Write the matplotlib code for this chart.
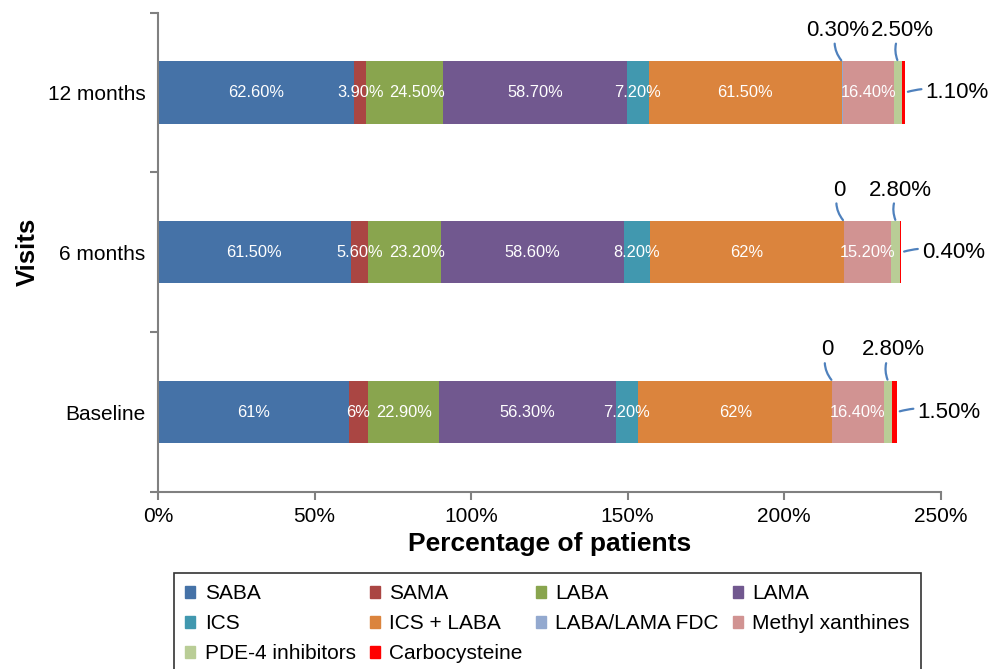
import matplotlib.pyplot as plt
from matplotlib.patches import Patch
import numpy as np

plt.rcParams['font.family'] = ['Liberation Sans', 'DejaVu Sans']

visits = ['Baseline', '6 months', '12 months']
drugs = ['SABA', 'SAMA', 'LABA', 'LAMA', 'ICS', 'ICS + LABA', 'LABA/LAMA FDC',
         'Methyl xanthines', 'PDE-4 inhibitors', 'Carbocysteine']
colors = ['#4572A7', '#AA4643', '#89A54E', '#71588F', '#4198AF', '#DB843D',
          '#93A9CF', '#D19392', '#B9CD96', '#FF0000']

# values per drug, for Baseline, 6 months, 12 months
saba = [61, 61.5, 62.6]
sama = [6, 5.6, 3.9]
laba = [22.9, 23.2, 24.5]
lama = [56.3, 58.6, 58.7]
ics = [7.2, 8.2, 7.2]
ics_laba = [62, 62, 61.5]
fdc = [0, 0, 0.3]
methyl = [16.4, 15.2, 16.4]
pde4 = [2.8, 2.8, 2.5]
carbo = [1.5, 0.4, 1.1]

data = np.array([saba, sama, laba, lama, ics, ics_laba, fdc, methyl, pde4, carbo])
inside = [0, 1, 2, 3, 4, 5, 7]      # labelled inside the bar
callouts = {6: (-5, 31), 8: (5, 31), 9: (52, 0)}   # offsets in px


def fmt(v):
    if v == 0:
        return '0'
    if float(v).is_integer():
        return '%d%%' % v
    return '%.2f%%' % v


fig = plt.figure(figsize=(9.88, 6.69), dpi=100)
ax = fig.add_axes([0.160, 0.2646, 0.792, 0.7165])

y = np.arange(len(visits))
h = 0.39
left = np.zeros(len(visits))
inner = [[] for _ in visits]
for i, name in enumerate(drugs):
    ax.barh(y, data[i], left=left, height=h, color=colors[i], label=name)
    for j in range(len(visits)):
        v = data[i][j]
        cx = left[j] + v / 2
        if i in inside:
            t = ax.text(cx, y[j], fmt(v), ha='center', va='center',
                        color='white', fontsize=11.8)
            inner[j].append(t)
        elif i in callouts:
            dx, dy = callouts[i]
            if i == 9:
                xy = (left[j] + v, y[j])
                ax.annotate(fmt(v), xy=xy, xytext=(dx, dy),
                            textcoords='offset pixels', ha='center',
                            va='center', fontsize=16,
                            arrowprops=dict(arrowstyle='-', color='#4F81BD',
                                            lw=1.6, shrinkA=1, shrinkB=2,
                                            connectionstyle='arc3,rad=0.15'))
            else:
                xy = (cx, y[j] + h / 2)
                ax.annotate(fmt(v), xy=xy, xytext=(dx, dy),
                            textcoords='offset pixels', ha='center',
                            va='center', fontsize=16,
                            arrowprops=dict(arrowstyle='-', color='#4F81BD',
                                            lw=1.6, shrinkA=0, shrinkB=1,
                                            connectionstyle='arc3,rad=0.3'))
    left += data[i]

ax.set_xlim(0, 250)
ax.set_ylim(-0.5, 2.5)
ax.set_xticks(np.arange(0, 251, 50))
ax.set_xticklabels(['%d%%' % t for t in range(0, 251, 50)], fontsize=15)
ax.set_yticks(y)
ax.set_yticklabels(visits, fontsize=15)
ax.set_yticks([-0.5, 0.5, 1.5, 2.5], minor=True)
ax.tick_params(axis='y', which='major', length=0, pad=9)
ax.tick_params(axis='y', which='minor', length=6, width=1.5, color='#808080')
ax.tick_params(axis='x', length=6, width=1.5, color='#808080', pad=5)

for s in ['top', 'right']:
    ax.spines[s].set_visible(False)
for s in ['left', 'bottom']:
    ax.spines[s].set_color('#808080')
    ax.spines[s].set_linewidth(1.5)

ax.set_xlabel('Percentage of patients', fontsize=19, fontweight='bold', labelpad=4)
ax.set_ylabel('Visits', fontsize=18.5, fontweight='bold', labelpad=6)

# push inside labels right when they would run into the previous one
renderer = fig.canvas.get_renderer()
inv = ax.transData.inverted()
for labels in inner:
    prev = None
    for t in labels:
        bb = t.get_window_extent(renderer)
        if prev is not None and bb.x0 < prev + 6:
            shift = prev + 6 - bb.x0
            px, py = ax.transData.transform(t.get_position())
            t.set_position(inv.transform((px + shift, py)))
            prev = bb.x1 + shift
        else:
            prev = bb.x1

# legend filled row by row
order = [0, 4, 8, 1, 5, 9, 2, 6, 3, 7]
handles = [Patch(color=colors[k], label=drugs[k]) for k in order]
leg = fig.legend(handles=handles, ncol=4, loc='upper left',
                 bbox_to_anchor=(174 / 988, 1 - 573 / 669),
                 borderaxespad=0, fontsize=15, frameon=True, fancybox=False,
                 handlelength=0.48, handleheight=0.48, handletextpad=0.45,
                 labelspacing=0.52, borderpad=0.55, columnspacing=0.66)
leg.get_frame().set_edgecolor('black')
leg.get_frame().set_linewidth(1.2)

fig.savefig('out.png', dpi=100)
